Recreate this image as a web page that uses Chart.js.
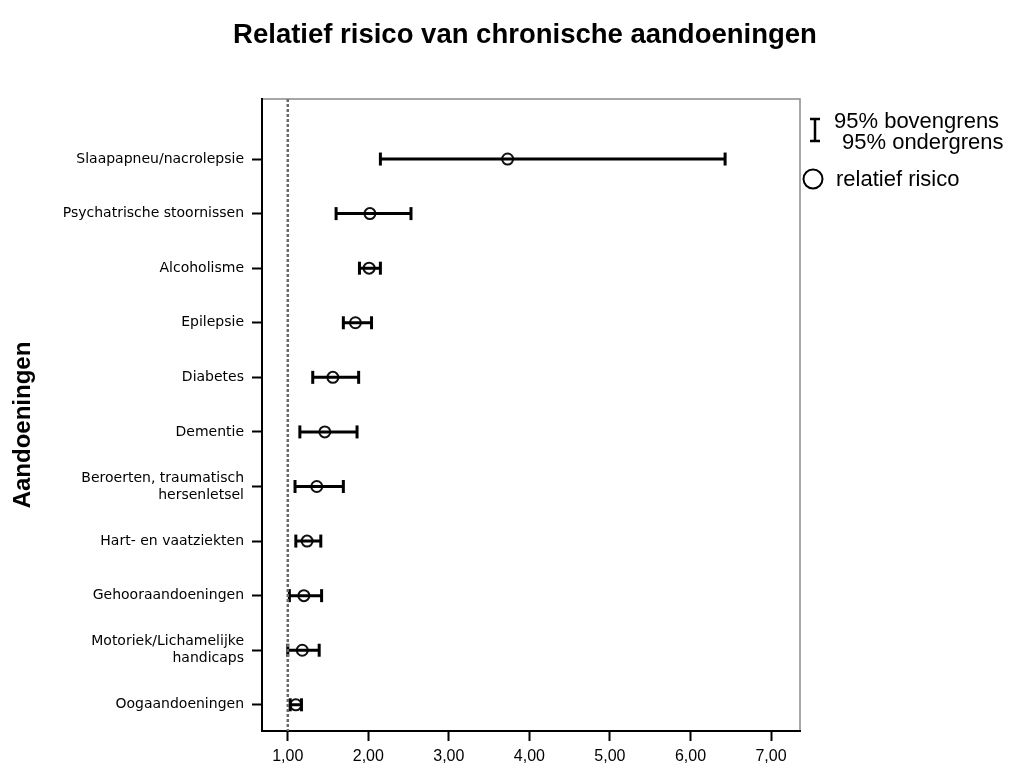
<!DOCTYPE html>
<html>
<head>
<meta charset="utf-8">
<script src="https://cdn.jsdelivr.net/npm/chart.js@4"></script>
<style>
    body { margin: 0; background: #fff; }
    #wrap { position: relative; width: 1009px; height: 778px; }
    #titel {
        position: absolute; left: 225px; top: 20px; width: 600px;
        text-align: center; font: bold 27.5px "Liberation Sans", Arial, sans-serif;
        line-height: 28px; color: #000; white-space: nowrap;
    }
    #ytitel {
        position: absolute; left: 22px; top: 425px;
        transform: translate(-50%, -50%) rotate(-90deg);
        font: bold 24px "Liberation Sans", Arial, sans-serif;
        line-height: 24px; color: #000; white-space: nowrap;
    }
    .leg {
        position: absolute; font: 22px "Liberation Sans", Arial, sans-serif;
        line-height: 22px; color: #000; white-space: nowrap;
    }
    #legsym { position: absolute; left: 0; top: 0; }
</style>
</head>
<body>
<div id="wrap">
    <canvas id="risicoChart" width="1009" height="778"></canvas>
    <div id="titel">Relatief risico van chronische aandoeningen</div>
    <div id="ytitel">Aandoeningen</div>
    <svg id="legsym" width="1009" height="778">
        <line x1="815" y1="119" x2="815" y2="141" stroke="#000" stroke-width="2.5"/>
        <line x1="810" y1="119" x2="820" y2="119" stroke="#000" stroke-width="2.5"/>
        <line x1="810" y1="141" x2="820" y2="141" stroke="#000" stroke-width="2.5"/>
        <circle cx="813" cy="179" r="9.5" fill="none" stroke="#000" stroke-width="2"/>
    </svg>
    <div class="leg" style="left:834px; top:110px;">95% bovengrens</div>
    <div class="leg" style="left:842px; top:131px;">95% ondergrens</div>
    <div class="leg" style="left:836px; top:168px;">relatief risico</div>
</div>

<script>

const aandoeningen = [
    "Slaapapneu/nacrolepsie",
    "Psychatrische stoornissen",
    "Alcoholisme",
    "Epilepsie",
    "Diabetes",
    "Dementie",
    "Beroerten, traumatisch\nhersenletsel",
    "Hart- en vaatziekten",
    "Gehooraandoeningen",
    "Motoriek/Lichamelijke\nhandicaps",
    "Oogaandoeningen"
];

const relatiefRisico = [3.73, 2.02, 2.01, 1.84, 1.56, 1.46, 1.36, 1.24, 1.20, 1.18, 1.10];
const ondergrens     = [2.15, 1.60, 1.89, 1.69, 1.31, 1.15, 1.09, 1.10, 1.02, 1.00, 1.03];
const bovengrens     = [6.43, 2.53, 2.15, 2.04, 1.88, 1.86, 1.69, 1.41, 1.42, 1.39, 1.17];

const xTicks = [1, 2, 3, 4, 5, 6, 7];
const referentie = 1;

const xMin = 0.68;
const xMax = 7.36;
const yMin = -1.10;
const yMax = 10.48;

/* =======================
   DATASETS
======================= */

function buildErrorBars() {

    const pts = [];

    aandoeningen.forEach((a, i) => {
        pts.push({ x: ondergrens[i], y: i });
        pts.push({ x: bovengrens[i], y: i });
        pts.push({ x: null, y: null });
    });

    return pts;
}

function buildPoints() {
    return relatiefRisico.map((v, i) => ({ x: v, y: i }));
}

/* =======================
   KADER
======================= */

const kaderPlugin = {
    id: "kader",
    beforeDraw(chart) {
        const { ctx, chartArea } = chart;
        ctx.save();
        ctx.strokeStyle = "#8a8a8a";
        ctx.lineWidth = 1.5;
        ctx.strokeRect(chartArea.left, chartArea.top,
            chartArea.right - chartArea.left, chartArea.bottom - chartArea.top);
        ctx.restore();
    }
};

new Chart(
    document.getElementById("risicoChart"),
    {
        type: "scatter",
        data: {
            datasets: [
                {
                    data: [{ x: referentie, y: yMin }, { x: referentie, y: yMax }],
                    showLine: true,
                    borderColor: "#6a6a6a",
                    borderWidth: 2.5,
                    borderDash: [3, 2],
                    pointRadius: 0
                },
                {
                    data: buildErrorBars(),
                    showLine: true,
                    spanGaps: false,
                    borderColor: "#000",
                    borderWidth: 3,
                    pointStyle: "line",
                    pointRotation: 90,
                    pointRadius: 6.5,
                    pointBorderWidth: 3,
                    pointBorderColor: "#000"
                },
                {
                    data: buildPoints(),
                    pointStyle: "circle",
                    pointRadius: 5.5,
                    pointBorderWidth: 2,
                    pointBorderColor: "#111",
                    pointBackgroundColor: "rgba(0,0,0,0)"
                }
            ]
        },
        options: {
            responsive: false,
            animation: false,
            devicePixelRatio: 1,
            events: [],
            layout: {
                padding: { top: 99, right: 209, left: 0, bottom: 0 }
            },
            plugins: {
                legend: { display: false },
                tooltip: { enabled: false }
            },
            scales: {
                x: {
                    type: "linear",
                    min: xMin,
                    max: xMax,
                    afterBuildTicks: scale => {
                        scale.ticks = xTicks.map(v => ({ value: v }));
                    },
                    afterFit: scale => { scale.height = 47; },
                    grid: {
                        drawOnChartArea: false,
                        drawTicks: true,
                        tickLength: 10,
                        tickColor: "#000",
                        tickWidth: 2
                    },
                    border: { display: true, color: "#000", width: 2 },
                    ticks: {
                        padding: 6,
                        color: "#000",
                        font: { family: "'Liberation Sans', Arial, sans-serif", size: 16 },
                        callback: v => v.toFixed(2).replace(".", ",")
                    }
                },
                y: {
                    type: "linear",
                    reverse: true,
                    min: yMin,
                    max: yMax,
                    afterBuildTicks: scale => {
                        scale.ticks = aandoeningen.map((a, i) => ({ value: i }));
                    },
                    afterFit: scale => { scale.width = 262; },
                    grid: {
                        drawOnChartArea: false,
                        drawTicks: true,
                        tickLength: 10,
                        tickColor: "#000",
                        tickWidth: 2
                    },
                    border: { display: true, color: "#000", width: 2 },
                    ticks: {
                        padding: 8,
                        color: "#000",
                        autoSkip: false,
                        font: { family: "'DejaVu Sans', sans-serif", size: 14, lineHeight: 1.2 },
                        callback: v => aandoeningen[v].split("\n")
                    }
                }
            }
        },
        plugins: [kaderPlugin]
    }
);

</script>
</body>
</html>
